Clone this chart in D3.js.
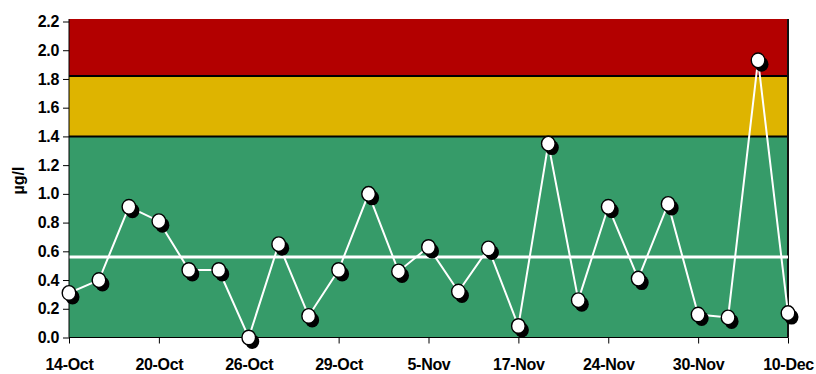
<!DOCTYPE html>
<html>
<head>
<meta charset="utf-8">
<script src="https://cdn.jsdelivr.net/npm/d3@7/dist/d3.min.js"></script>
<style>
  html, body { margin: 0; padding: 0; background: #fff; }
  svg text { font-family: "Liberation Sans", Arial, sans-serif; font-weight: bold; fill: #000; }
</style>
</head>
<body>
<svg id="chart" width="816" height="374"></svg>
<script>
// Weekly concentration samples (µg/l), one per sampling occasion
const sampleValues = [0.31, 0.40, 0.91, 0.81, 0.47, 0.47, 0.00, 0.65, 0.15, 0.47,
                      1.00, 0.46, 0.63, 0.32, 0.62, 0.08, 1.35, 0.26, 0.91, 0.41,
                      0.93, 0.16, 0.14, 1.93, 0.17];
// Date labels shown under every third sample
const dateLabels = ["14-Oct", "20-Oct", "26-Oct", "29-Oct", "5-Nov",
                    "17-Nov", "24-Nov", "30-Nov", "10-Dec"];
const labelEvery = 3;
// Status bands: limits and colours from bottom to top
const bandLimits = [0, 1.4, 1.82, 2.2];
const bandColors = ["#369B69", "#DEB400", "#B30000"];
const yTicks = [0, 0.2, 0.4, 0.6, 0.8, 1.0, 1.2, 1.4, 1.6, 1.8, 2.0, 2.2];

const svg = d3.select("#chart");
const plotLeft = 69, plotRight = 788, plotTop = 21.5, plotBottom = 337.5;

const x = d3.scalePoint()
  .domain(d3.range(sampleValues.length))
  .range([plotLeft, plotRight]);
const y = d3.scaleLinear().domain([0, 2.2]).range([plotBottom, plotTop]);
const yMaxPx = y(2.2) - 2.5;

// Coloured status bands
const bands = d3.range(bandColors.length).map(i => ({
  lo: bandLimits[i], hi: bandLimits[i + 1], color: bandColors[i]
}));
svg.append("g").selectAll("rect").data(bands).join("rect")
  .attr("x", plotLeft)
  .attr("width", plotRight - plotLeft)
  .attr("y", d => d.hi === 2.2 ? yMaxPx : y(d.hi))
  .attr("height", d => y(d.lo) - (d.hi === 2.2 ? yMaxPx : y(d.hi)))
  .attr("fill", d => d.color);

// Band boundaries
svg.append("g").selectAll("line").data(bandLimits.slice(1, -1)).join("line")
  .attr("x1", plotLeft).attr("x2", plotRight)
  .attr("y1", d => y(d)).attr("y2", d => y(d))
  .attr("stroke", "#000").attr("stroke-width", 2);

// Right edge of the plot area
svg.append("line")
  .attr("x1", plotRight).attr("x2", plotRight)
  .attr("y1", yMaxPx).attr("y2", plotBottom)
  .attr("stroke", "#111").attr("stroke-width", 2);

// Average line
const avg = d3.mean(sampleValues);
svg.append("line")
  .attr("x1", plotLeft).attr("x2", plotRight)
  .attr("y1", y(avg)).attr("y2", y(avg))
  .attr("stroke", "#fff").attr("stroke-width", 3);

// Axes
const yAxis = svg.append("g")
  .attr("transform", `translate(${plotLeft},0)`)
  .call(d3.axisLeft(y).tickValues(yTicks).tickFormat(d3.format(".1f")).tickSize(6).tickPadding(4));
yAxis.select(".domain").attr("stroke", "#000").attr("d", `M0,${yMaxPx}V${plotBottom}`);
yAxis.selectAll("text").style("font-size", "16px").style("letter-spacing", "-0.3px");

const tickIdx = d3.range(0, sampleValues.length, labelEvery);
const xAxis = svg.append("g")
  .attr("transform", `translate(0,${plotBottom})`)
  .call(d3.axisBottom(x).tickValues(tickIdx)
    .tickFormat((d, i) => dateLabels[i]).tickSize(6).tickPadding(15));
xAxis.select(".domain").attr("stroke", "#000").attr("d", `M${plotLeft},0H${plotRight}`);
xAxis.selectAll("text").style("font-size", "16px").style("letter-spacing", "-0.3px");

// Y axis title
svg.append("text")
  .attr("transform", `translate(24,${(plotTop + plotBottom) / 2 + 1}) rotate(-90)`)
  .attr("text-anchor", "middle")
  .style("font-size", "16px")
  .text("µg/l");

// Sample line
const line = d3.line().x((d, i) => x(i)).y(d => y(d));
svg.append("path")
  .datum(sampleValues)
  .attr("d", line)
  .attr("fill", "none")
  .attr("stroke", "#fff")
  .attr("stroke-width", 2);

// Markers with drop shadow
const markers = svg.append("g");
markers.selectAll("ellipse.shadow").data(sampleValues).join("ellipse")
  .attr("class", "shadow")
  .attr("cx", (d, i) => x(i) + 3.5).attr("cy", d => y(d) + 4)
  .attr("rx", 7).attr("ry", 7.5)
  .attr("fill", "#000");
markers.selectAll("ellipse.dot").data(sampleValues).join("ellipse")
  .attr("class", "dot")
  .attr("cx", (d, i) => x(i)).attr("cy", d => y(d))
  .attr("rx", 6.8).attr("ry", 7.3)
  .attr("fill", "#fff").attr("stroke", "#000").attr("stroke-width", 1.4);
</script>
</body>
</html>
